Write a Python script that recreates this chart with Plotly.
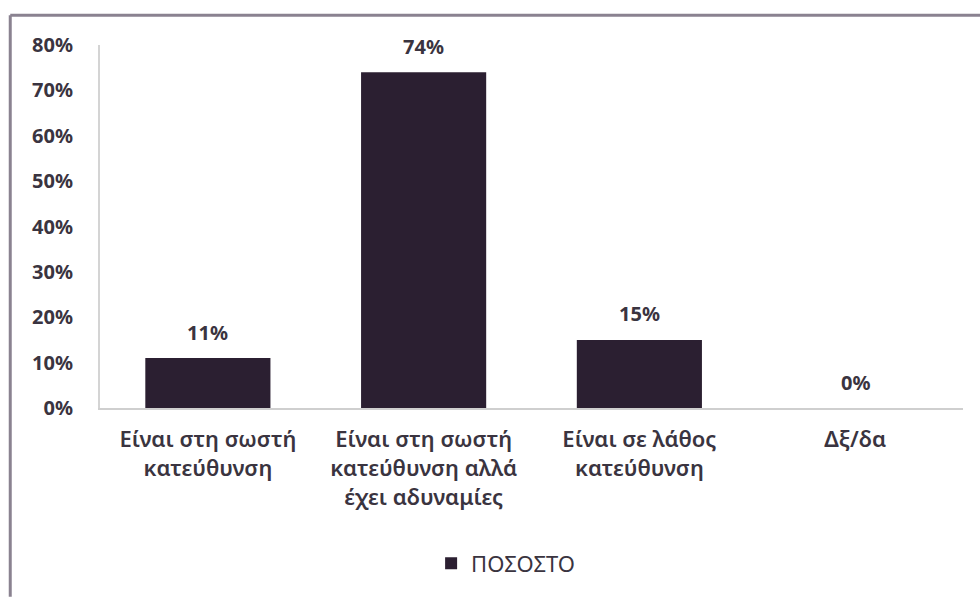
import plotly.graph_objects as go

categories = ["Είναι στη σωστή<br>κατεύθυνση",
              "Είναι στη σωστή<br>κατεύθυνση αλλά<br>έχει αδυναμίες",
              "Είναι σε λάθος<br>κατεύθυνση",
              "Δξ/δα"]
values = [0.11, 0.74, 0.15, 0.00]
labels = ["11%", "74%", "15%", "0%"]
series_name = "ΠΟΣΟΣΤΟ"
yticks = [0, 0.1, 0.2, 0.3, 0.4, 0.5, 0.6, 0.7, 0.8]

bar_color = "#2b1f31"
text_color = "#3a3440"
font_family = "Noto Sans, Open Sans, sans-serif"

fig = go.Figure()
fig.add_trace(go.Bar(
    x=categories, y=values, name=series_name,
    marker=dict(color=bar_color, line=dict(width=0)),
    showlegend=True,
))

# value labels above bars
for c, v, t in zip(categories, values, labels):
    fig.add_annotation(x=c, y=v, text=t, showarrow=False, yshift=26,
                       font=dict(size=20, color=text_color, family=font_family, weight="bold"))

# outer chart frame (top + left edge)
fig.add_shape(type="line", xref="paper", yref="paper",
              x0=-0.104, x1=1.03, y0=1.082, y1=1.082,
              line=dict(color="#8a8290", width=3))
fig.add_shape(type="line", xref="paper", yref="paper",
              x0=-0.104, x1=-0.104, y0=1.082, y1=-0.52,
              line=dict(color="#8a8290", width=3))

fig.update_layout(
    width=980, height=597,
    margin=dict(l=100, r=17, t=45, b=187),
    paper_bgcolor="white", plot_bgcolor="white",
    bargap=0.42,
    font=dict(family=font_family, color=text_color),
    xaxis=dict(
        showgrid=False, showline=True, linecolor="#cfcfcf", linewidth=2,
        ticks="", ticklabelstandoff=11, automargin=False,
        tickfont=dict(size=22, color=text_color, weight=600),
    ),
    yaxis=dict(
        range=[0, 0.8], tickvals=yticks, tickformat=".0%",
        showgrid=False, showline=True, linecolor="#d4d4d4", linewidth=2,
        zeroline=False, ticks="", ticklabelstandoff=21, automargin=False,
        tickfont=dict(size=20, color=text_color, weight="bold"),
    ),
    legend=dict(orientation="h", x=0.47, xanchor="center", y=-0.428, yanchor="middle",
                itemwidth=30, font=dict(size=22, color=text_color)),
)

fig.write_html("out.html", config={"displayModeBar": False},
               post_script="document.body.style.margin='0px';")
